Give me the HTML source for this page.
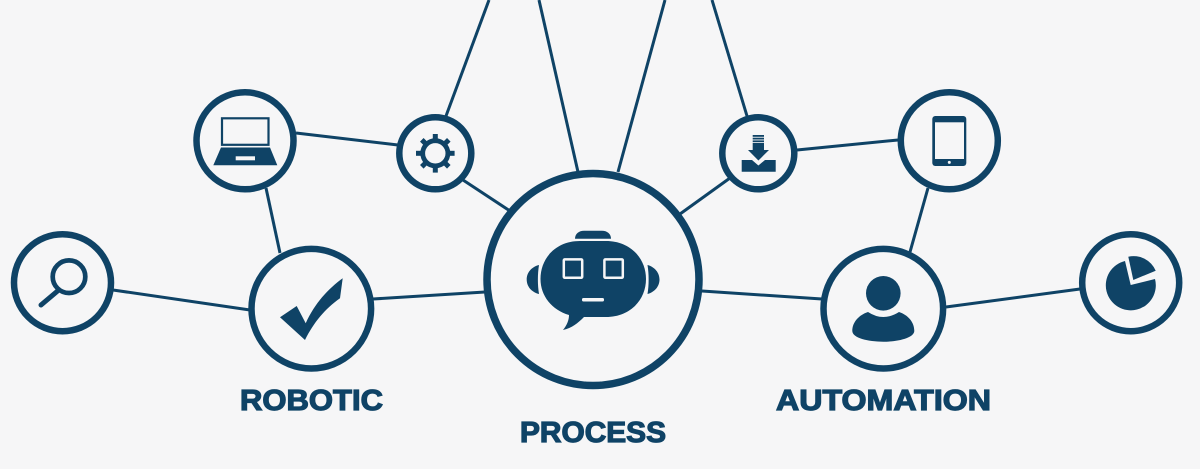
<!DOCTYPE html>
<html lang="en">
<head>
<meta charset="utf-8">
<title>Robotic Process Automation</title>
<style>
html,body{margin:0;padding:0;width:1200px;height:469px;overflow:hidden;background:#f6f6f7}
svg{display:block}
text{font-family:"Liberation Sans",sans-serif;font-weight:700;font-size:28.5px;fill:#0f4366;stroke:#0f4366;stroke-width:1.2px}
</style>
</head>
<body>
<svg width="1200" height="469" viewBox="0 0 1200 469" xmlns="http://www.w3.org/2000/svg">
<rect width="1200" height="469" fill="#f6f6f7"/>
<g stroke="#0f4366" stroke-width="3" fill="none">
<line x1="113" y1="290" x2="250" y2="310"/>
<line x1="373" y1="299" x2="485" y2="292"/>
<line x1="266" y1="188" x2="280" y2="253"/>
<line x1="296" y1="133" x2="398" y2="145"/>
<line x1="463" y1="180" x2="510" y2="211"/>
<line x1="446" y1="116" x2="489" y2="0"/>
<line x1="578" y1="172" x2="539" y2="0"/>
<line x1="618" y1="172" x2="665" y2="0"/>
<line x1="747" y1="116" x2="712" y2="0"/>
<line x1="730" y1="178" x2="680" y2="214"/>
<line x1="797" y1="150" x2="898" y2="140"/>
<line x1="928" y1="188" x2="910" y2="252"/>
<line x1="702" y1="291" x2="822" y2="299"/>
<line x1="946" y1="307" x2="1080" y2="289"/>
</g>
<g stroke="#0f4366" stroke-width="6.5" fill="#f6f6f7">
<circle cx="62.5" cy="282.7" r="48.5"/>
<circle cx="311.3" cy="308.7" r="59.8"/>
<circle cx="883.3" cy="308.7" r="59.8"/>
<circle cx="1130.7" cy="282.7" r="48.5"/>
<circle cx="245" cy="140.8" r="48.5"/>
<circle cx="949.3" cy="140.8" r="48.5"/>
<circle cx="435.3" cy="153.3" r="36"/>
<circle cx="758.3" cy="153.3" r="36"/>
<circle cx="593" cy="279.5" r="106" stroke-width="7.5"/>
</g>
<g fill="#0f4366">
<!-- bot -->
<path d="M575 238.700c0-5 4-8 9-8h18c5 0 9 3 9 8z"/>
<path d="M580 241H606C630 241 646 258 646 279C646 300 630 317 606 317H584C578 323 572 328 563 330C567 325 569 320 569 315C552 310 540.500 296 540.500 279C540.500 258 556 241 580 241Z"/>
<path d="M539 265C531 267 526.700 273 526.700 279.500C526.700 286 531 292 539 294C537.500 285 537.500 274 539 265Z"/>
<path d="M647.500 265C655 267 659.500 273 659.500 279.500C659.500 286 655 292 647.500 294C649 285 649 274 647.500 265Z"/>
<rect x="563.800" y="259.400" width="18.400" height="18.400" rx="1" fill="#0f4366" stroke="#f6f6f7" stroke-width="2.500"/>
<rect x="604.400" y="259.400" width="18.400" height="18.400" rx="1" fill="#0f4366" stroke="#f6f6f7" stroke-width="2.500"/>
<rect x="582" y="298" width="22" height="3.500" rx="1.500" fill="#f6f6f7"/>
<!-- laptop -->
<rect x="222" y="118.300" width="46.500" height="26.500" fill="none" stroke="#0f4366" stroke-width="2.200"/>
<path d="M221 147.500H270L277.300 165.300H213.300Z"/>
<rect x="235.700" y="156.300" width="19.300" height="4" fill="#f6f6f7"/>
<!-- gear -->
<circle cx="435.300" cy="153.300" r="12.600" fill="none" stroke="#0f4366" stroke-width="4.800"/>
<g stroke="#0f4366" stroke-width="5">
<line x1="435.300" y1="139" x2="435.300" y2="134"/>
<line x1="435.300" y1="167.600" x2="435.300" y2="172.600"/>
<line x1="421" y1="153.300" x2="416" y2="153.300"/>
<line x1="449.600" y1="153.300" x2="454.600" y2="153.300"/>
<line x1="425.200" y1="143.200" x2="421.800" y2="139.800"/>
<line x1="445.400" y1="143.200" x2="448.800" y2="139.800"/>
<line x1="425.200" y1="163.400" x2="421.800" y2="166.800"/>
<line x1="445.400" y1="163.400" x2="448.800" y2="166.800"/>
</g>
<!-- download -->
<rect x="752.700" y="135" width="11.300" height="1.800"/>
<rect x="752.700" y="137.700" width="11.300" height="1.800"/>
<rect x="752.700" y="140.400" width="11.300" height="1.800"/>
<path d="M752.700 143H764V150H769L758.400 160.500L748 150H752.700Z"/>
<path d="M741.700 160H752L758.400 165.500L765 160H775.700V171.700H741.700Z"/>
<!-- tablet -->
<rect x="932.300" y="116" width="34" height="50" rx="3"/>
<rect x="935" y="122.300" width="29" height="36.700" fill="#f6f6f7"/>
<circle cx="949.300" cy="162.400" r="1.500" fill="#f6f6f7"/>
<!-- search -->
<circle cx="69" cy="276.700" r="16.300" fill="none" stroke="#0f4366" stroke-width="4.700"/>
<line x1="57" y1="291.500" x2="41" y2="305" stroke="#0f4366" stroke-width="5" stroke-linecap="round"/>
<!-- check -->
<path d="M280 317.300L296.700 306L305.700 323.300C315 303 328 289 342.700 278.300L340 298.300C325 309 314 322 305 340Z"/>
<!-- person -->
<circle cx="883.300" cy="293.300" r="17.300"/>
<path d="M868 312Q883.300 322 899 312C908 315 914.300 322 914.300 331C914 338 898 341.700 883.300 341.700C868 341.700 852.500 338 852.300 331C852.300 322 859 315 868 312Z"/>
<!-- pie -->
<path d="M1130.700 285L1125 261A25 25 0 1 0 1155 279Z"/>
<path d="M1133.300 280L1128.300 256.700A24 24 0 0 1 1155.700 270.700Z"/>
</g>
<text x="240" y="410" textLength="143" lengthAdjust="spacingAndGlyphs">ROBOTIC</text>
<text x="520" y="442" textLength="146" lengthAdjust="spacingAndGlyphs">PROCESS</text>
<text x="776" y="410" textLength="215" lengthAdjust="spacingAndGlyphs">AUTOMATION</text>
</svg>
</body>
</html>
